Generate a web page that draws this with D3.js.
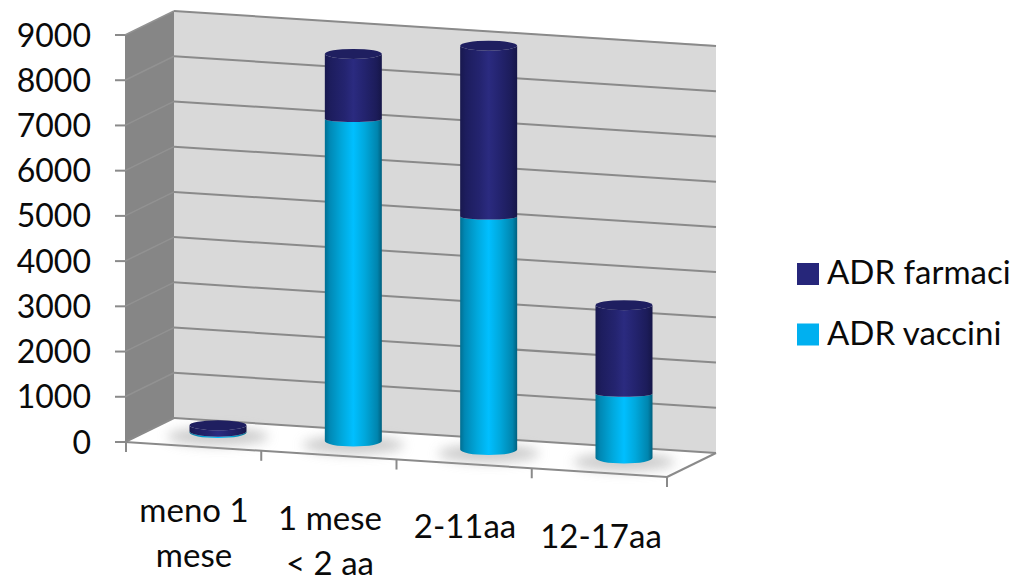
<!DOCTYPE html>
<html>
<head>
<meta charset="utf-8">
<script src="https://cdn.jsdelivr.net/npm/d3@7/dist/d3.min.js"></script>
<style>
html,body{margin:0;padding:0;background:#fff}
text{font-family:Lato,"Open Sans",sans-serif;fill:#0a0a0a}
</style>
</head>
<body>
<svg id="chart" width="1019" height="577"></svg>
<script>
// Pediatric ADR reports by age band, stacked as 3D cylinders
const categories = [["meno 1","mese"],["1 mese","< 2 aa"],["2-11aa"],["12-17aa"]];
const vaccini = [30, 7120, 5150, 1420];
const farmaci = [130, 1440, 3780, 1960];
const valueTicks = [0,1000,2000,3000,4000,5000,6000,7000,8000,9000];
const legendNames = ["ADR farmaci","ADR vaccini"];
const palette = {farmaci:"#26267a", vaccini:"#00b0f0"};

const svg = d3.select("#chart");
const defs = svg.append("defs");

// Scene corners of the box
const front = {x0:125, x1:667, y0:442, y1:477};
const back = {x0:174, x1:716, y0:418, y1:453};
const wallTop = {left:11, right:45};
const frontTop = 35;

// Height in pixels above the floor
const h = d3.scaleLinear().domain([0,9000]).range([0,407]);
// Floor line along the front edge and along the row where the cylinders stand
const frontY = d3.scaleLinear().domain([front.x0,front.x1]).range([front.y0,front.y1]);
const band = d3.scaleBand().domain(d3.range(categories.length)).range([front.x0+1,front.x1]);
const barX = d3.scaleLinear().domain([0,3]).range([218,624]);
const baseY = d3.scaleLinear().domain([218,624]).range([432.5,458]);

const grid = "#8a8a8a";

function gradient(id, stops){
  const g = defs.append("linearGradient").attr("id",id);
  stops.forEach(([o,c])=>g.append("stop").attr("offset",o).attr("stop-color",c));
}
gradient("gradV",[[0,"#006f92"],[.08,"#0088b4"],[.3,"#00a8dc"],[.5,"#00bfff"],[.7,"#00a8dc"],[.92,"#0085ae"],[1,"#00607f"]]);
gradient("gradF",[[0,"#18184e"],[.1,"#1d1d5e"],[.35,"#242470"],[.5,"#2b2b80"],[.68,"#242470"],[.9,"#1c1c5a"],[1,"#161648"]]);
defs.append("filter").attr("id","soft").attr("x","-40%").attr("y","-80%").attr("width","180%").attr("height","260%")
  .append("feGaussianBlur").attr("stdDeviation",6);

// Walls and floor
svg.append("polygon").attr("fill","#d9d9d9")
  .attr("points",[[back.x0,wallTop.left],[back.x1,wallTop.right],[back.x1,back.y1],[back.x0,back.y0]].join(" "));
svg.append("polygon").attr("fill","#868686")
  .attr("points",[[front.x0,frontTop],[back.x0,wallTop.left],[back.x0,back.y0],[front.x0,front.y0]].join(" "));
svg.append("polygon").attr("fill","#fff")
  .attr("points",[[front.x0,front.y0],[back.x0,back.y0],[back.x1,back.y1],[front.x1,front.y1]].join(" "));

// Gridlines on both walls, value ticks and labels
valueTicks.forEach(v=>{
  const d = h(v);
  svg.append("line").attr("x1",back.x0).attr("x2",back.x1).attr("y1",back.y0-d).attr("y2",back.y1-d)
    .attr("stroke",grid).attr("stroke-width",2);
  if(v>0) svg.append("line").attr("x1",front.x0).attr("x2",back.x0).attr("y1",front.y0-d).attr("y2",back.y0-d)
    .attr("stroke","#929292").attr("stroke-width",1.5);
  svg.append("line").attr("x1",115).attr("x2",front.x0).attr("y1",front.y0-d).attr("y2",front.y0-d)
    .attr("stroke",grid).attr("stroke-width",2);
  svg.append("text").attr("x",91).attr("y",front.y0-d+11.5).attr("text-anchor","end")
    .attr("font-size",32).text(v);
});

// Floor edges and category ticks
[[front.x0,front.y0,front.x1,front.y1],[front.x1,front.y1,back.x1,back.y1],[front.x0,front.y0,back.x0,back.y0]].forEach(s=>{
  svg.append("line").attr("x1",s[0]).attr("y1",s[1]).attr("x2",s[2]).attr("y2",s[3])
    .attr("stroke",grid).attr("stroke-width",2);
});
d3.range(categories.length+1).forEach(i=>{
  const x = i===categories.length ? band.range()[1] : band(i);
  svg.append("line").attr("x1",x).attr("x2",x).attr("y1",frontY(x)).attr("y2",frontY(x)+10)
    .attr("stroke",grid).attr("stroke-width",2);
});

// One cylinder segment: body from y0 (lower) to y1 (upper)
function body(cx, r, y0, ry0, y1, ry1){
  return `M${cx-r},${y1} L${cx-r},${y0} A${r},${ry0} 0 0 0 ${cx+r},${y0} L${cx+r},${y1} A${r},${ry1} 0 0 1 ${cx-r},${y1} Z`;
}
const radius = 28.5;
// The seam between segments flattens as it rises above the floor
const seamRy = d3.scaleLinear().domain([400,430]).range([3,5.5]).clamp(true);

categories.forEach((c,i)=>{
  const cx = barX(i), by = baseY(cx);
  svg.append("ellipse").attr("cx",cx).attr("cy",by+4).attr("rx",radius+22).attr("ry",9)
    .attr("fill","#a8a8a8").attr("opacity",.6).attr("filter","url(#soft)");
});
categories.forEach((c,i)=>{
  const cx = barX(i), by = baseY(cx);
  const yMid = by-h(vaccini[i]), yTop = by-h(vaccini[i]+farmaci[i]);
  const ryMid = seamRy(yMid);
  svg.append("path").attr("d",body(cx,radius,by,5.5,yMid,ryMid)).attr("fill","url(#gradV)");
  svg.append("path").attr("d",body(cx,radius,yMid,ryMid,yTop,5)).attr("fill","url(#gradF)");
  svg.append("ellipse").attr("cx",cx).attr("cy",yTop).attr("rx",radius).attr("ry",5).attr("fill","#1f1f60");
});

// Category labels, each a little lower than the previous one
const labelX = [194,330,465,601], labelY = [522,530,538,548];
categories.forEach((c,i)=>{
  const t = svg.append("text").attr("text-anchor","middle").attr("font-size",33);
  c.forEach((line,k)=>t.append("tspan").attr("x",labelX[i]).attr("y",labelY[i]+k*45).text(line));
});

// Legend
legendNames.forEach((name,i)=>{
  const y = 263+i*60.5;
  svg.append("rect").attr("x",797).attr("y",y).attr("width",22).attr("height",22)
    .attr("fill",i===0?palette.farmaci:palette.vaccini);
  svg.append("text").attr("x",827).attr("y",y+21).attr("font-size",33).text(name);
});
</script>
</body>
</html>
